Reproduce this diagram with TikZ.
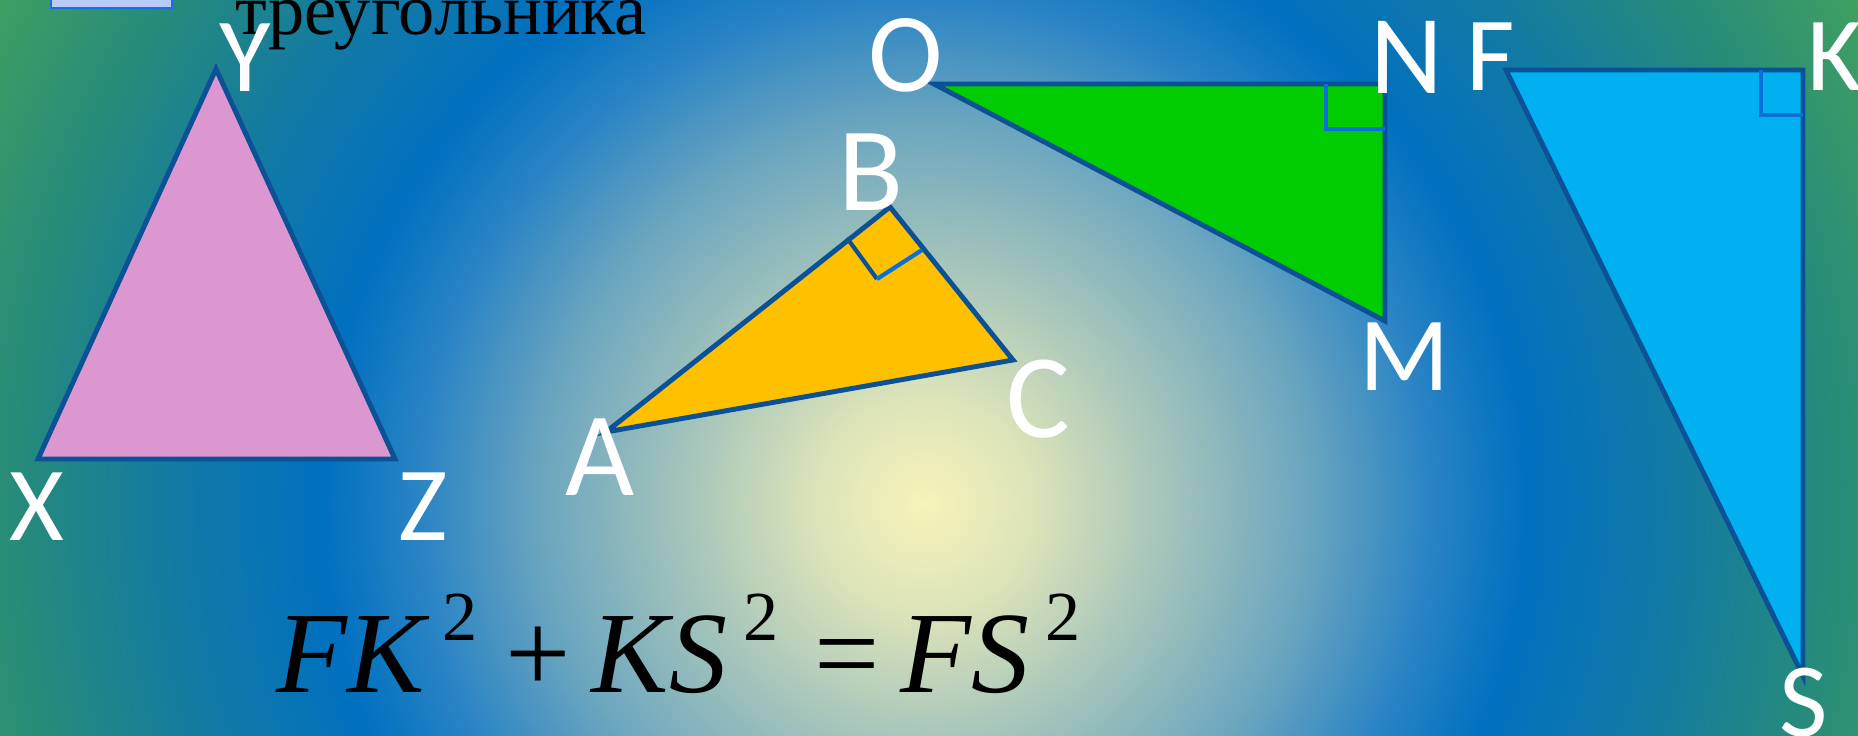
\documentclass[tikz,border=0pt]{standalone}
\usepackage{fontspec}
\newfontfamily\lblfont{Carlito}
\newfontfamily\rmtimes{Liberation Serif}

\definecolor{bgA}{HTML}{F7F3B9}
\definecolor{bgB}{HTML}{DDE4B9}
\definecolor{bgC}{HTML}{A6C5BB}
\definecolor{bgD}{HTML}{6CA6BF}
\definecolor{bgE}{HTML}{2C85C4}
\definecolor{bgF}{HTML}{0070C0}
\definecolor{bgG}{HTML}{137AA4}
\definecolor{bgH}{HTML}{258A7C}
\definecolor{bgI}{HTML}{40A060}
\definecolor{edgeblue}{HTML}{0B5196}
\definecolor{markblue}{HTML}{0A70D8}
\definecolor{pinkfill}{HTML}{DC97D0}
\definecolor{yellowfill}{HTML}{FFC000}
\definecolor{greenfill}{HTML}{00CC00}
\definecolor{cyanfill}{HTML}{00B0F0}
\definecolor{boxfill}{HTML}{B9CBF8}
\definecolor{boxedge}{HTML}{1A70E0}

\pgfdeclareradialshading{slidebg}{\pgfpoint{0bp}{0bp}}{%
  color(0bp)=(bgA); color(2.5bp)=(bgB); color(5.6bp)=(bgC);
  color(9bp)=(bgD); color(11.8bp)=(bgE); color(14.2bp)=(bgF);
  color(17.7bp)=(bgG); color(21.2bp)=(bgH); color(25bp)=(bgI);
  color(50bp)=(bgI)}

\newcommand{\sqtwo}{\raisebox{15pt}{\fontsize{20}{24}\selectfont 2}}

\begin{document}
\begin{tikzpicture}[
  tri/.style={draw=edgeblue, line width=1.4pt, line join=miter},
  rightmark/.style={draw=markblue, line width=1.2pt},
  lbl/.style={text=white, inner sep=0pt, font=\lblfont\fontsize{30}{36}\selectfont},
  lblmid/.style={lbl, font=\lblfont\fontsize{32}{38}\selectfont},
  lblbig/.style={lbl, font=\lblfont\fontsize{34}{40}\selectfont}
]

% ---------------- BACKGROUND ----------------

\useasboundingbox (0,0) rectangle (18.58,7.36);
\clip (0,0) rectangle (18.58,7.36);
\shade[shading=slidebg] (-1.36,-8.28) rectangle (19.84,12.92);

\draw[draw=boxedge, line width=0.6pt, fill=boxfill] (0.51,7.28) rectangle (1.72,7.50);

\node[anchor=base west, inner sep=0pt, font=\rmtimes\fontsize{20.6}{24}\selectfont] (title) at (2.35,7.01) {треугольника};

% ---------------- TRIANGLE XYZ ----------------

\coordinate (X) at (0.38,2.77);
\coordinate (Y) at (2.16,6.67);
\coordinate (Z) at (3.95,2.77);

\draw[tri, fill=pinkfill] (X) -- (Y) -- (Z) -- cycle;

\node[lbl] (lX) at (0.37,2.29) {X};
\node[lbl] (lY) at (2.45,6.78) {Y};
\node[lbl] (lZ) at (4.23,2.29) {Z};

% ---------------- TRIANGLE ABC ----------------

\coordinate (A) at (6.06,3.04);
\coordinate (B) at (8.90,5.29);
\coordinate (C) at (10.13,3.76);

\draw[tri, fill=yellowfill] (A) -- (B) -- (C) -- cycle;

\coordinate (Bab) at (8.47,4.98);
\coordinate (Bq) at (8.77,4.57);
\coordinate (Bbc) at (9.22,4.86);
\draw[tri, line width=1.2pt] (Bab) -- (Bq);
\draw[rightmark] (Bq) -- (Bbc);

\node[lblbig] (lA) at (6.00,2.79) {A};
\node[lblbig] (lB) at (8.71,5.64) {B};
\node[lblbig] (lC) at (10.38,3.37) {C};

% ---------------- TRIANGLE OMN ----------------

\coordinate (O) at (9.34,6.52);
\coordinate (N) at (13.85,6.52);
\coordinate (M) at (13.85,4.15);

\draw[tri, fill=greenfill] (O) -- (N) -- (M) -- cycle;

\coordinate (Nt) at (13.26,6.52);
\coordinate (Nq) at (13.26,6.07);
\coordinate (Nr) at (13.85,6.07);
\draw[rightmark] (Nt) -- (Nq) -- (Nr);

\node[lblmid] (lO) at (9.06,6.81) {O};
\node[lblmid] (lN) at (14.07,6.79) {N};
\node[lbl] (lM) at (14.05,3.79) {M};

% ---------------- TRIANGLE FKS ----------------

\coordinate (F) at (15.06,6.66);
\coordinate (K) at (18.03,6.66);
\coordinate (S) at (18.03,0.60);

\draw[tri, fill=cyanfill] (F) -- (K) -- (S) -- cycle;

\coordinate (Kt) at (17.61,6.66);
\coordinate (Kq) at (17.61,6.21);
\coordinate (Kr) at (18.03,6.21);
\draw[rightmark] (Kt) -- (Kq) -- (Kr);

\node[lbl] (lF) at (14.91,6.79) {F};
\node[lbl] (lK) at (18.35,6.79) {K};
\node[lbl] (lS) at (18.04,0.33) {S};

% ---------------- FORMULA ----------------

\node[anchor=base west, inner sep=0pt, font=\rmtimes\fontsize{33}{40}\selectfont] (pyth) at (2.76,0.43)
  {\textit{FK}\kern3.5pt\sqtwo\kern8pt+\kern6pt\textit{KS}\kern4.7pt\sqtwo\kern10pt=\kern6pt\textit{FS}\kern4.7pt\sqtwo};

\end{tikzpicture}
\end{document}
